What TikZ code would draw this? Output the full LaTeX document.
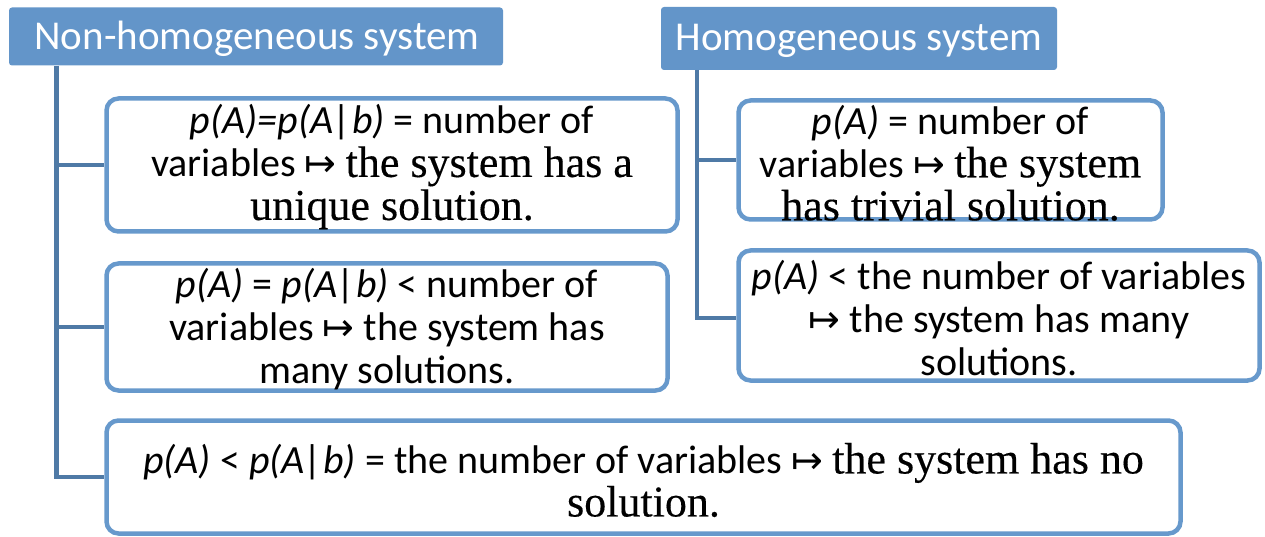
\documentclass[tikz,border=0pt]{standalone}
\usepackage{fontspec}
\setmainfont{Carlito}
\newfontfamily\seriffont[Scale=1.1,FakeBold=0.3]{Liberation Serif}
\newfontfamily\symfont[Scale=0.95]{DejaVu Sans}
\newcommand{\mapsym}{{\symfont ↦}}
\definecolor{headblue}{RGB}{99,149,201}
\definecolor{boxblue}{RGB}{103,153,204}
\definecolor{lineblue}{RGB}{79,122,166}
\tikzset{
  header/.style={draw=none, fill=headblue, rounded corners=3pt, inner sep=0pt},
  headtext/.style={text=white, font=\fontsize{41}{45}\selectfont, inner sep=0pt},
  card/.style={draw=boxblue, line width=4.5pt, fill=white, rounded corners=12pt, inner sep=0pt},
  cardtext/.style={align=center, font=\fontsize{40}{43}\selectfont, inner sep=0pt},
  conn/.style={draw=lineblue, line width=4.5pt}
}
\begin{document}
\begin{tikzpicture}[x=1pt,y=1pt]
\useasboundingbox (0,0) rectangle (1265,536);
% headers
\node[header, minimum width=494pt, minimum height=58pt] (hl) at (256,499.5) {};
\node[headtext] (hlt) at (257,497) {Non-homogeneous system};
\node[header, minimum width=396pt, minimum height=63pt] (hr) at (859,497.5) {};
\node[headtext] (hrt) at (859,495) {Homogeneous system};
% trunk coordinates
\coordinate (lt) at (56.5,470);
\coordinate (rt) at (697,466);
% boxes
\node[card, minimum width=571pt, minimum height=133pt] (b1) at (392,371) {};
\node[card, minimum width=561pt, minimum height=127pt] (b2) at (387,209) {};
\node[card, minimum width=1074pt, minimum height=113pt] (b3) at (643.5,59) {};
\node[card, minimum width=424pt, minimum height=119pt] (b4) at (950.5,376) {};
\node[card, minimum width=521pt, minimum height=130pt] (b5) at (999,220.5) {};
% connectors
\draw[conn] (lt) |- (b1.west);
\draw[conn] (lt) |- (b2.west);
\draw[conn] (lt) |- (b3.west);
\draw[conn] (rt) |- (b4.west);
\draw[conn] ([yshift=-2.5pt]rt) |- ([yshift=-2.5pt]b5.west);
% texts
\node[cardtext] (t1) at (392,369) {{\itshape p(A)=p(A|b)} = number of\\variables \mapsym{} {\seriffont the system has a}\\{\seriffont unique solution.}};
\node[cardtext] (t2) at (387,207) {{\itshape p(A)} = {\itshape p(A|b)} < number of\\variables \mapsym{} the system has\\many solutions.};
\node[cardtext] (t3) at (643.5,56) {{\itshape p(A)} < {\itshape p(A|b)} = the number of variables \mapsym{} {\seriffont the system has no}\\{\seriffont solution.}};
\node[cardtext] (t4) at (950.5,373) {{\itshape p(A)} = number of\\variables \mapsym{} {\seriffont the system}\\{\seriffont has trivial solution.}};
\node[cardtext] (t5) at (999,218) {{\itshape p(A)} < the number of variables\\\mapsym{} the system has many\\solutions.};
\end{tikzpicture}
\end{document}
